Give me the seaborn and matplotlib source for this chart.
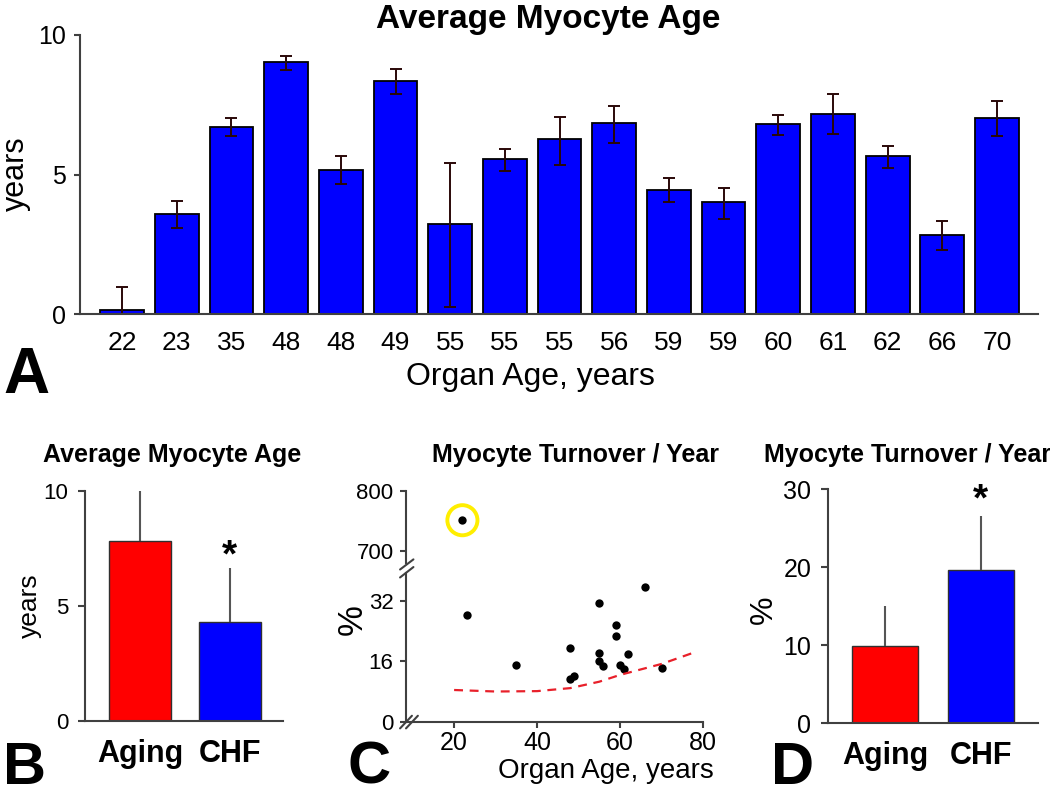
import numpy as np
import pandas as pd
import seaborn as sns
import matplotlib.pyplot as plt

# panel A: myocyte age per heart
organ_age = [22, 23, 35, 48, 48, 49, 55, 55, 55, 56, 59, 59, 60, 61, 62, 66, 70]
myocyte_age = [0.14, 3.57, 6.71, 9.02, 5.16, 8.35, 3.21, 5.54, 6.26, 6.83,
               4.44, 4.00, 6.80, 7.18, 5.66, 2.83, 7.04]
err_low = [0.83, 0.50, 0.33, 0.27, 0.51, 0.46, 2.95, 0.40, 0.91, 0.69,
           0.44, 0.60, 0.37, 0.74, 0.44, 0.54, 0.66]
err_high = [0.83, 0.48, 0.33, 0.23, 0.50, 0.42, 2.19, 0.37, 0.79, 0.61,
            0.45, 0.50, 0.33, 0.69, 0.37, 0.50, 0.58]

# panels B and D: group means
groups = ['Aging', 'CHF']
group_colors = ['#ff0000', '#0000ff']
group_myocyte_age = [7.83, 4.31]
group_myocyte_age_sd = [2.17, 2.32]
group_turnover = [9.9, 19.7]
group_turnover_sd = [5.1, 6.9]

# panel C: turnover vs organ age
scatter_age = [22, 23, 35, 48, 48, 49, 55, 55, 55, 56, 59, 59, 60, 61, 62, 66, 70]
turnover = [751, 28.3, 15.0, 19.5, 11.2, 12.1, 31.5, 18.3, 16.1, 14.8,
            25.5, 22.8, 14.9, 14.0, 17.9, 35.6, 14.3]
curve_age = [20, 30, 40, 48, 55, 60, 70, 78]
curve_pct = [8.4, 8.0, 8.1, 8.9, 10.6, 12.4, 15.3, 18.4]

sns.set_style('ticks')
plt.rcParams['font.family'] = ['Liberation Sans', 'DejaVu Sans']
plt.rcParams['text.color'] = 'black'
plt.rcParams['axes.labelcolor'] = 'black'

W, H = 1050, 796
SPINE = '#404040'


def box(l, t, r, b):
    return [l / W, 1 - b / H, (r - l) / W, (b - t) / H]


def ftext(x, y, s, **kw):
    fig.text(x / W, 1 - y / H, s, **kw)


def style_axes(ax):
    sns.despine(ax=ax)
    for side in ['left', 'bottom']:
        ax.spines[side].set_color(SPINE)
        ax.spines[side].set_linewidth(1.5)
    ax.tick_params(colors=SPINE, labelcolor='black', width=1.5)


fig = plt.figure(figsize=(10.5, 7.96), dpi=100)

# ---------------- A ----------------
axA = fig.add_axes(box(80, 35, 1038, 314))
dfA = pd.DataFrame({'pos': range(len(organ_age)), 'age': myocyte_age})
sns.barplot(data=dfA, x='pos', y='age', color='#0000ff', saturation=1,
            edgecolor='black', linewidth=1.3, width=0.8, ax=axA)
axA.errorbar(dfA['pos'], dfA['age'], yerr=[err_low, err_high], fmt='none',
             ecolor='#2a0808', elinewidth=1.4, capsize=4.5, capthick=1.4)
axA.set_xlim(-0.77, 16.75)
axA.set_ylim(0, 10)
axA.set_yticks([0, 5, 10])
axA.set_xticks(range(len(organ_age)))
axA.set_xticklabels([str(a) for a in organ_age])
axA.set_xlabel('')
axA.set_ylabel('')
style_axes(axA)
axA.tick_params(axis='x', length=0, pad=12, labelsize=19)
axA.tick_params(axis='y', length=4, pad=6, labelsize=18)
ftext(548, 28, 'Average Myocyte Age', fontsize=24, fontweight='bold', ha='center', va='baseline')
ftext(530, 385, 'Organ Age, years', fontsize=23, ha='center', va='baseline')
ftext(16, 174, 'years', fontsize=22, rotation=90, ha='center', va='center')
ftext(3, 393, 'A', fontsize=46, fontweight='bold', ha='left', va='baseline')


def group_panel(ax, vals, sds, ylim, yticks):
    d = pd.DataFrame({'group': groups, 'val': vals})
    sns.barplot(data=d, x='group', y='val', hue='group', palette=group_colors,
                saturation=1, legend=False, edgecolor='#303030', linewidth=1.0,
                width=0.69, ax=ax)
    ax.errorbar(range(len(groups)), vals, yerr=[[0] * len(sds), sds], fmt='none',
                ecolor='#555555', elinewidth=1.5, capsize=0)
    ax.set_xlim(-0.61, 1.59)
    ax.set_ylim(*ylim)
    ax.set_yticks(yticks)
    ax.set_xlabel('')
    ax.set_ylabel('')
    style_axes(ax)
    ax.tick_params(axis='x', length=0, pad=13, labelsize=22)
    for lab in ax.get_xticklabels():
        lab.set_fontweight('bold')


# ---------------- B ----------------
axB = fig.add_axes(box(85, 490.7, 283, 721))
group_panel(axB, group_myocyte_age, group_myocyte_age_sd, (0, 10), [0, 5, 10])
axB.tick_params(axis='y', length=5, pad=7, labelsize=16)
axB.text(1, group_myocyte_age[1] + group_myocyte_age_sd[1] - 0.25, '*',
         fontsize=28, fontweight='bold', ha='center', va='bottom')
ftext(172, 462, 'Average Myocyte Age', fontsize=18, fontweight='bold', ha='center', va='baseline')
ftext(30, 606, 'years', fontsize=19, rotation=90, ha='center', va='center')
ftext(3, 795.5, 'B', fontsize=43, fontweight='bold', ha='left', va='bottom')

# ---------------- C ----------------
axCt = fig.add_axes(box(406, 490.7, 703, 563))
axCb = fig.add_axes(box(406, 573, 703, 721.7))
dfC = pd.DataFrame({'age': scatter_age, 'pct': turnover})
dfCurve = pd.DataFrame({'age': curve_age, 'pct': curve_pct})
for ax in (axCt, axCb):
    sns.lineplot(data=dfCurve, x='age', y='pct', color='#e8202a', linewidth=1.6,
                 dashes=False, linestyle=(0, (4, 3)), ax=ax)
    sns.scatterplot(data=dfC, x='age', y='pct', color='black', s=36,
                    edgecolor='black', linewidth=0, ax=ax)
    out = dfC.loc[dfC['pct'].idxmax()]
    ax.scatter([out['age']], [out['pct']], s=470, facecolors='none',
               edgecolors='#ffee00', linewidths=2.8)
    ax.set_xlim(8.4, 80)
    ax.set_xlabel('')
    ax.set_ylabel('')
    style_axes(ax)
axCt.set_ylim(680, 800)
axCt.set_yticks([700, 800])
axCt.spines['bottom'].set_visible(False)
axCt.tick_params(axis='x', bottom=False, labelbottom=False)
axCt.tick_params(axis='y', length=4, pad=5, labelsize=16)
axCb.set_ylim(0, 39.4)
axCb.set_yticks([0, 16, 32])
axCb.set_xticks([20, 40, 60, 80])
axCb.tick_params(axis='y', length=4, pad=5, labelsize=16)
axCb.tick_params(axis='x', length=4, pad=3, labelsize=18)

# break marks
kw = dict(color=SPINE, linewidth=1.5, clip_on=False)
axCt.plot([-0.02, 0.025], [-0.09, 0.05], transform=axCt.transAxes, **kw)
axCb.plot([-0.02, 0.025], [0.97, 1.04], transform=axCb.transAxes, **kw)
axCb.plot([-0.02, 0.02], [-0.045, 0.04], transform=axCb.transAxes, **kw)
axCb.plot([0.0, 0.04], [-0.045, 0.04], transform=axCb.transAxes, **kw)

ftext(575, 462, 'Myocyte Turnover / Year', fontsize=18, fontweight='bold', ha='center', va='baseline')
ftext(606, 778, 'Organ Age, years', fontsize=20, ha='center', va='baseline')
ftext(352, 620, '%', fontsize=25, rotation=90, ha='center', va='center')
ftext(347, 795.5, 'C', fontsize=43, fontweight='bold', ha='left', va='bottom')

# ---------------- D ----------------
axD = fig.add_axes(box(828, 489.3, 1038, 723.3))
group_panel(axD, group_turnover, group_turnover_sd, (0, 30), [0, 10, 20, 30])
axD.set_xlim(-0.60, 1.60)
axD.tick_params(axis='y', length=5, pad=7, labelsize=18)
axD.text(1, group_turnover[1] + group_turnover_sd[1] - 0.4, '*',
         fontsize=28, fontweight='bold', ha='center', va='bottom')
ftext(908, 462, 'Myocyte Turnover / Year', fontsize=18, fontweight='bold', ha='center', va='baseline')
ftext(764, 610, '%', fontsize=23, rotation=90, ha='center', va='center')
ftext(771, 795.5, 'D', fontsize=43, fontweight='bold', ha='left', va='bottom')

fig.savefig('out.png', dpi=100)
